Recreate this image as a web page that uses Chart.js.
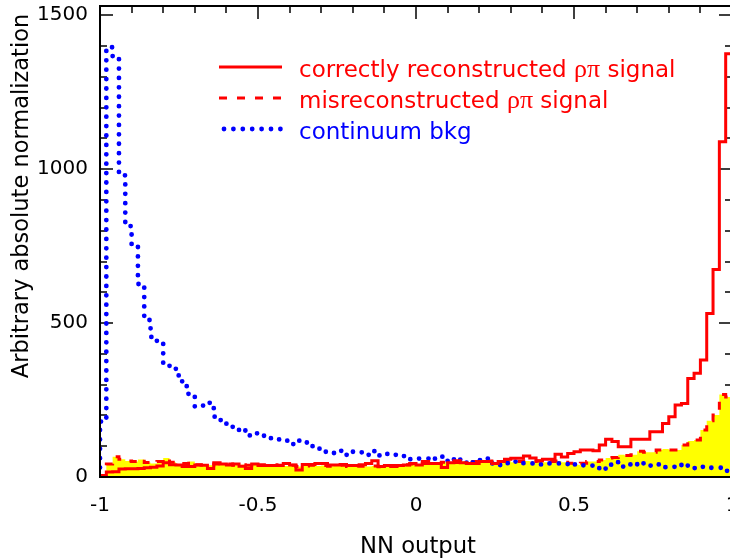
<!DOCTYPE html>
<html>
<head>
<meta charset="utf-8">
<script src="https://cdn.jsdelivr.net/npm/chart.js@4.4.1/dist/chart.umd.min.js"></script>
<style>
  html, body { margin: 0; padding: 0; background: #fff; overflow: hidden; }
  canvas { display: block; }
</style>
</head>
<body>
<canvas id="nnChart" width="740" height="559"></canvas>
<script>
// NN output histograms: 100 bins of width 0.02 starting at -1
const binLow = -1;
const binWidth = 0.02;

const correctSignal = [
  5, 16, 17, 26, 27, 27, 28, 30, 32, 36,
  46, 40, 39, 34, 34, 39, 38, 28, 46, 42,
  39, 42, 35, 28, 42, 37, 37, 37, 37, 44,
  39, 23, 41, 41, 44, 44, 39, 39, 41, 37,
  37, 40, 44, 53, 34, 37, 37, 37, 39, 44,
  39, 50, 44, 44, 31, 46, 53, 46, 44, 44,
  50, 50, 44, 50, 58, 61, 61, 68, 62, 53,
  58, 58, 74, 65, 76, 82, 88, 88, 85, 104,
  123, 115, 98, 98, 123, 123, 123, 147, 147, 174,
  196, 234, 239, 320, 337, 380, 531, 674, 1089, 1375
];

const misrecoSignal = [
  5, 42, 66, 58, 52, 50, 57, 47, 44, 50,
  62, 48, 42, 44, 50, 40, 39, 38, 42, 40,
  42, 38, 40, 38, 44, 40, 38, 40, 38, 36,
  38, 34, 36, 38, 36, 37, 35, 36, 38, 34,
  36, 35, 34, 36, 33, 35, 34, 36, 40, 42,
  40, 44, 46, 44, 48, 46, 47, 50, 48, 50,
  48, 52, 48, 50, 52, 48, 50, 52, 50, 52,
  48, 50, 52, 48, 45, 40, 45, 50, 50, 55,
  62, 63, 72, 70, 72, 84, 80, 80, 88, 91,
  88, 88, 104, 117, 120, 153, 183, 201, 268, 260
];

const continuumBkg = [
  180, 1396, 1360, 980, 815, 755, 627, 510, 455, 440,
  365, 360, 330, 295, 265, 229, 232, 241, 196, 185,
  163, 153, 157, 135, 142, 134, 129, 126, 122, 118,
  107, 118, 112, 100, 92, 82, 80, 78, 85, 72,
  82, 80, 72, 84, 70, 75, 72, 70, 68, 58,
  60, 60, 55, 64, 66, 50, 62, 53, 42, 48,
  55, 60, 44, 39, 45, 50, 45, 44, 44, 41,
  44, 44, 44, 44, 38, 41, 38, 37, 31, 23,
  40, 48, 34, 41, 37, 48, 37, 37, 41, 32,
  33, 32, 43, 32, 29, 33, 30, 30, 30, 20
];

const xTickValues = [-1, -0.5, 0, 0.5, 1];
const yTickValues = [0, 500, 1000, 1500];

// histogram outline: one point per left bin edge, plus the closing edge
function toSteps(values) {
  const pts = [{ x: binLow, y: 0 }];
  values.forEach((v, i) => pts.push({ x: binLow + i * binWidth, y: v }));
  pts.push({ x: binLow + values.length * binWidth, y: values[values.length - 1] });
  return pts;
}

function drawLabel(ctx, text, x, y, color) {
  ctx.fillStyle = color;
  text.split(/(ρπ)/).forEach(part => {
    ctx.font = part === 'ρπ' ? '26px "Liberation Serif"' : '23px "DejaVu Sans"';
    ctx.fillText(part, x, y);
    x += ctx.measureText(part).width;
  });
}

const framePlugin = {
  id: 'frame',
  beforeDatasetsDraw(chart) {
    const { ctx, chartArea: a, scales: { x, y } } = chart;
    ctx.save();
    ctx.strokeStyle = '#000';
    ctx.lineWidth = 1.5;
    ctx.beginPath();
    for (let k = 0; k <= 20; k++) {
      const px = Math.round(x.getPixelForValue(-1 + k * 0.1));
      const len = k % 5 === 0 ? 13 : 7;
      ctx.moveTo(px, a.top); ctx.lineTo(px, a.top + len);
      ctx.moveTo(px, a.bottom); ctx.lineTo(px, a.bottom - len);
    }
    for (let k = 0; k <= 15; k++) {
      const py = Math.round(y.getPixelForValue(k * 100));
      const len = k % 5 === 0 ? 13 : 7;
      ctx.moveTo(a.left, py); ctx.lineTo(a.left + len, py);
      ctx.moveTo(a.right, py); ctx.lineTo(a.right - len, py);
    }
    ctx.stroke();
    ctx.restore();
  },
  afterDatasetsDraw(chart) {
    const { ctx, chartArea: a } = chart;
    ctx.save();
    ctx.strokeStyle = '#000';
    ctx.lineWidth = 2;
    ctx.strokeRect(a.left, a.top, a.right - a.left, a.bottom - a.top);
    ctx.restore();
  },
  afterDraw(chart) {
    const ctx = chart.ctx;
    ctx.save();
    ctx.fillStyle = '#000';
    ctx.font = '22.7px "DejaVu Sans"';
    ctx.textAlign = 'center';
    ctx.textBaseline = 'alphabetic';
    ctx.fillText('NN output', 418, 553);
    ctx.save();
    ctx.translate(27.5, 196);
    ctx.rotate(-Math.PI / 2);
    ctx.font = '22.5px "DejaVu Sans"';
    ctx.fillText('Arbitrary absolute normalization', 0, 0);
    ctx.restore();

    // legend, top middle of the frame
    ctx.textAlign = 'left';
    chart.data.datasets.forEach((ds, i) => {
      const ly = 67 + i * 31;
      const dotted = ds.borderCapStyle === 'round';
      ctx.strokeStyle = ds.borderColor;
      ctx.lineWidth = ds.borderWidth;
      ctx.lineCap = ds.borderCapStyle || 'butt';
      ctx.setLineDash(ds.borderDash || []);
      ctx.beginPath();
      ctx.moveTo(dotted ? 224 : 219, ly);
      ctx.lineTo(282, ly);
      ctx.stroke();
      ctx.setLineDash([]);
      drawLabel(ctx, ds.label, 299, ly + 9.5, ds.borderColor);
    });
    ctx.restore();
  }
};

Chart.defaults.font.family = '"DejaVu Sans"';

new Chart(document.getElementById('nnChart').getContext('2d'), {
  type: 'line',
  data: {
    datasets: [
      {
        label: 'correctly reconstructed ρπ signal',
        data: toSteps(correctSignal),
        stepped: 'before',
        borderColor: '#ff0000',
        borderWidth: 3,
        pointRadius: 0,
        fill: false,
        order: 0
      },
      {
        label: 'misreconstructed ρπ signal',
        data: toSteps(misrecoSignal),
        stepped: 'before',
        borderColor: '#ff0000',
        backgroundColor: '#ffff00',
        borderWidth: 3,
        borderDash: [8, 10],
        pointRadius: 0,
        fill: 'origin',
        order: 2
      },
      {
        label: 'continuum bkg',
        data: toSteps(continuumBkg),
        stepped: 'before',
        borderColor: '#0000ff',
        borderWidth: 4.8,
        borderDash: [0, 9.4],
        borderCapStyle: 'round',
        pointRadius: 0,
        fill: false,
        order: 1
      }
    ]
  },
  options: {
    responsive: false,
    animation: false,
    events: [],
    layout: { padding: { top: 6, right: 8, left: 0, bottom: 0 } },
    plugins: {
      legend: { display: false },
      tooltip: { enabled: false }
    },
    scales: {
      x: {
        type: 'linear',
        min: -1,
        max: 1,
        afterBuildTicks: s => { s.ticks = xTickValues.map(v => ({ value: v })); },
        afterFit: s => { s.height = 82; s.paddingLeft = 0; s.paddingRight = 0; },
        grid: { display: false, drawTicks: false },
        border: { display: false },
        ticks: {
          color: '#000',
          font: { size: 20 },
          padding: 17,
          maxRotation: 0,
          callback: v => String(v)
        }
      },
      y: {
        min: 0,
        max: 1530,
        afterBuildTicks: s => { s.ticks = yTickValues.map(v => ({ value: v })); },
        afterFit: s => { s.width = 100; s.paddingTop = 0; s.paddingBottom = 0; },
        grid: { display: false, drawTicks: false },
        border: { display: false },
        ticks: {
          color: '#000',
          font: { size: 20 },
          padding: 12,
          callback: v => String(v)
        }
      }
    }
  },
  plugins: [framePlugin]
});
</script>
</body>
</html>
